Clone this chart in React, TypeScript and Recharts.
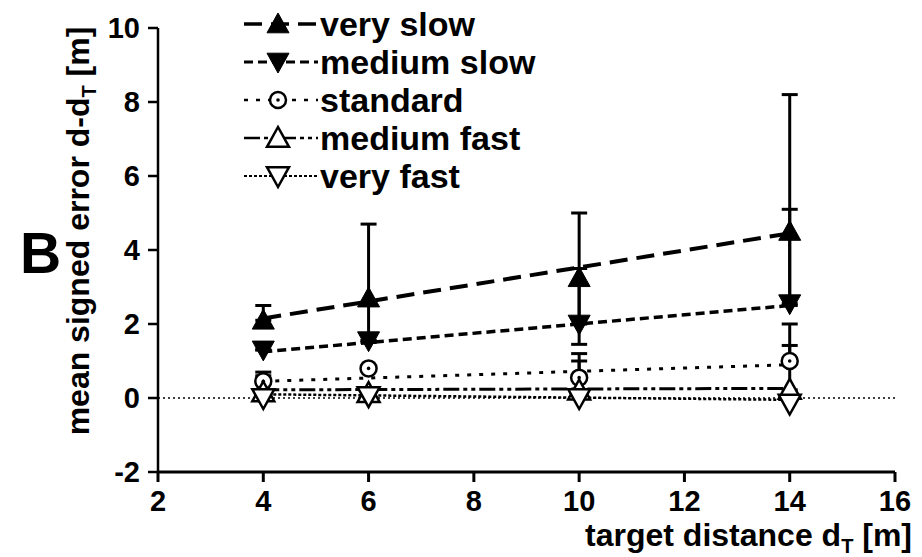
import React from "react";
import {
  ComposedChart,
  Line,
  XAxis,
  YAxis,
  ErrorBar,
  ReferenceLine,
} from "recharts";

// target distances and mean signed errors per speed condition
const distances = [4, 6, 10, 14];
const verySlow = [2.1, 2.7, 3.25, 4.5];
const verySlowErr = [[0, 0.4], [1.2, 2.0], [1.8, 1.75], [2.0, 3.7]];
const mediumSlow = [1.3, 1.55, 2.0, 2.55];
const mediumSlowErr = [[0, 0], [0, 0], [0, 1.5], [0, 2.55]];
const standard = [0.45, 0.8, 0.55, 1.0];
const standardErr = [[0, 0.25], [0, 0], [0, 0.65], [0, 1.0]];
const mediumFast = [0.15, 0.13, 0.2, 0.22];
const mediumFastErr = [[0, 0.45], [0, 0], [0, 0.8], [0, 1.2]];
const veryFast = [0.0, 0.05, 0.0, -0.15];

// regression lines, read at the ends (x = 4 and x = 14)
const fitX = [4, 14];
const fitVerySlow = [2.15, 4.45];
const fitMediumSlow = [1.25, 2.5];
const fitStandard = [0.45, 0.9];
const fitMediumFast = [0.22, 0.26];
const fitVeryFast = [0.1, -0.05];

const xTicks = [2, 4, 6, 8, 10, 12, 14, 16];
const yTicks = [-2, 0, 2, 4, 6, 8, 10];

const FONT = "'Liberation Sans', Arial, sans-serif";

type Kind = "upFilled" | "downFilled" | "circle" | "upOpen" | "downOpen";

const SERIES = [
  { name: "very slow", kind: "upFilled" as Kind, values: verySlow, err: verySlowErr, fit: fitVerySlow, dash: "18 9", width: 4 },
  { name: "medium slow", kind: "downFilled" as Kind, values: mediumSlow, err: mediumSlowErr, fit: fitMediumSlow, dash: "9 5", width: 3.5 },
  { name: "standard", kind: "circle" as Kind, values: standard, err: standardErr, fit: fitStandard, dash: "4 8", width: 3 },
  { name: "medium fast", kind: "upOpen" as Kind, values: mediumFast, err: mediumFastErr, fit: fitMediumFast, dash: "16 4 4 4 4 4", width: 3 },
  { name: "very fast", kind: "downOpen" as Kind, values: veryFast, err: null, fit: fitVeryFast, dash: "3 2", width: 2.5 },
];

function Marker({ kind, cx, cy }: { kind: Kind; cx: number; cy: number }) {
  const s = 11;
  if (kind === "circle") {
    return (
      <g>
        <circle cx={cx} cy={cy} r={8} fill="#fff" stroke="#000" strokeWidth={2.5} />
        <circle cx={cx} cy={cy} r={1.8} fill="#000" />
      </g>
    );
  }
  const up = kind === "upFilled" || kind === "upOpen";
  const filled = kind === "upFilled" || kind === "downFilled";
  const pts = up
    ? `${cx},${cy - s} ${cx - s},${cy + s * 0.8} ${cx + s},${cy + s * 0.8}`
    : `${cx},${cy + s} ${cx - s},${cy - s * 0.8} ${cx + s},${cy - s * 0.8}`;
  return (
    <polygon
      points={pts}
      fill={filled ? "#000" : "#fff"}
      stroke="#000"
      strokeWidth={filled ? 1 : 2.5}
      strokeLinejoin="miter"
    />
  );
}

function LegendBox() {
  return (
    <div style={{ position: "absolute", left: 240, top: 5, fontFamily: FONT }}>
      {SERIES.map((s) => (
        <div key={s.name} style={{ display: "flex", alignItems: "center", height: 38 }}>
          <svg width={80} height={38}>
            <line x1={4} y1={19} x2={78} y2={19} stroke="#000" strokeWidth={s.width - 0.5} strokeDasharray={s.dash} />
            <Marker kind={s.kind} cx={38} cy={19} />
          </svg>
          <span style={{ fontSize: 34, fontWeight: "bold", color: "#000", lineHeight: "38px" }}>{s.name}</span>
        </div>
      ))}
    </div>
  );
}

export default function App() {
  return (
    <div style={{ position: "absolute", left: 0, top: 0, width: 922, height: 557, background: "#fff" }}>
      <ComposedChart width={922} height={557} margin={{ top: 28, right: 27, bottom: 25, left: 78 }}>
        <XAxis
          type="number"
          dataKey="x"
          domain={[2, 16]}
          ticks={xTicks}
          allowDataOverflow
          height={60}
          stroke="#000"
          strokeWidth={3}
          tickSize={10}
          tickMargin={8}
          tick={{ fontSize: 29, fontWeight: "bold", fill: "#000", fontFamily: FONT }}
        />
        <YAxis
          type="number"
          domain={[-2, 10]}
          ticks={yTicks}
          allowDataOverflow
          width={80}
          stroke="#000"
          strokeWidth={2.5}
          tickSize={10}
          tickMargin={8}
          tick={{ fontSize: 29, fontWeight: "bold", fill: "#000", fontFamily: FONT }}
        />
        <ReferenceLine y={0} stroke="#000" strokeWidth={1.5} strokeDasharray="2 3" />
        {SERIES.map((s) => (
          <Line
            key={`fit-${s.name}`}
            data={fitX.map((x, i) => ({ x, y: s.fit[i] }))}
            dataKey="y"
            stroke="#000"
            strokeWidth={s.width}
            strokeDasharray={s.dash}
            dot={false}
            activeDot={false}
            isAnimationActive={false}
          />
        ))}
        {SERIES.map((s) => (
          <Line
            key={`pts-${s.name}`}
            data={distances.map((x, i) => ({ x, y: s.values[i], err: s.err ? s.err[i] : [0, 0] }))}
            dataKey="y"
            stroke="none"
            dot={(p: any) => (
              <g key={`${s.name}-${p.index}`}>
                <Marker kind={s.kind} cx={p.cx} cy={p.cy} />
              </g>
            )}
            activeDot={false}
            isAnimationActive={false}
          >
            {s.err && (
              <ErrorBar dataKey="err" direction="y" width={8} stroke="#000" strokeWidth={3} />
            )}
          </Line>
        ))}
      </ComposedChart>
      <svg width={922} height={557} style={{ position: "absolute", left: 0, top: 0, pointerEvents: "none" }}>
        <text x={20} y={273} fontFamily={FONT} fontWeight="bold" fontSize={57} fill="#000">
          B
        </text>
        <text
          transform="translate(89,231) rotate(-90)"
          textAnchor="middle"
          fontFamily={FONT}
          fontWeight="bold"
          fontSize={32}
          fill="#000"
        >
          mean signed error d-d<tspan fontSize={20} dy={7}>T</tspan>
          <tspan dy={-7}> [m]</tspan>
        </text>
        <text x={912} y={546} textAnchor="end" fontFamily={FONT} fontWeight="bold" fontSize={32} fill="#000">
          target distance d<tspan fontSize={20} dy={7}>T</tspan>
          <tspan dy={-7}> [m]</tspan>
        </text>
      </svg>
      <LegendBox />
    </div>
  );
}
